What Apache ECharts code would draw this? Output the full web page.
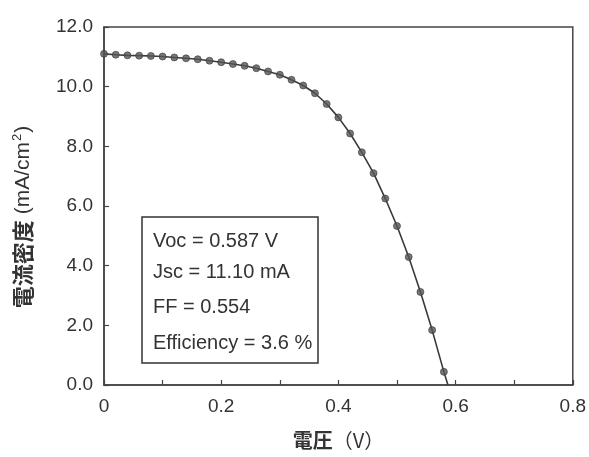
<!DOCTYPE html>
<html>
<head>
<meta charset="utf-8">
<script src="https://cdn.jsdelivr.net/npm/echarts@6/dist/echarts.min.js"></script>
<style>
  html, body { margin: 0; padding: 0; background: #fff; }
  #chart { width: 589px; height: 457px; }
</style>
</head>
<body>
<div id="chart"></div>
<script>
// J-V curve of the cell: voltage (V) and current density (mA/cm2)
const voltage = [0.00, 0.02, 0.04, 0.06, 0.08, 0.10, 0.12, 0.14, 0.16, 0.18,
                 0.20, 0.22, 0.24, 0.26, 0.28, 0.30, 0.32, 0.34, 0.36, 0.38,
                 0.40, 0.42, 0.44, 0.46, 0.48, 0.50, 0.52, 0.54, 0.56, 0.58];
const currentDensity = [11.10, 11.07, 11.05, 11.04, 11.03, 11.01, 10.98, 10.95, 10.92, 10.87,
                        10.82, 10.76, 10.70, 10.62, 10.51, 10.40, 10.23, 10.04, 9.78, 9.42,
                        8.97, 8.43, 7.80, 7.10, 6.25, 5.33, 4.29, 3.12, 1.84, 0.44];
// open-circuit point where the curve meets the voltage axis
const openCircuit = [0.587, 0];

const statLines = ['Voc = 0.587 V', 'Jsc = 11.10 mA', 'FF = 0.554', 'Efficiency = 3.6 %'];

const xTicks = [0, 0.2, 0.4, 0.6, 0.8];
const yTicks = [0, 2, 4, 6, 8, 10, 12];

const ink = '#333';
const latin = '"Liberation Sans", Arial, sans-serif';
const cjk = '"Noto Sans CJK JP", "Liberation Sans", sans-serif';

const points = voltage.map((v, i) => [v, currentDensity[i]]);
const curve = points.concat([openCircuit]);

const chart = echarts.init(document.getElementById('chart'), null, { renderer: 'canvas' });

const statTop = [241, 272, 307, 343];

chart.setOption({
  animation: false,
  backgroundColor: '#fff',
  grid: {
    left: 104, right: 11, top: 27, bottom: 72,
    show: true, borderColor: '#444', borderWidth: 1.5, backgroundColor: 'transparent'
  },
  xAxis: {
    type: 'value',
    min: xTicks[0], max: xTicks[xTicks.length - 1], interval: 0.2,
    name: '{c|電圧}{l|（V）}',
    nameLocation: 'middle',
    nameGap: 45,
    nameTextStyle: {
      rich: {
        c: { fontFamily: cjk, fontSize: 20, fontWeight: 'bold', color: ink },
        l: { fontFamily: cjk, fontSize: 20, color: ink }
      }
    },
    axisLine: { show: true, lineStyle: { color: '#444', width: 1.5 } },
    axisTick: { show: true, inside: true, length: 5, lineStyle: { color: '#444', width: 1.2 } },
    minorTick: { show: true, splitNumber: 2, length: 5, lineStyle: { color: '#444', width: 1.2 } },
    splitLine: { show: false },
    minorSplitLine: { show: false },
    axisLabel: {
      margin: 12,
      fontFamily: latin, fontSize: 19, color: ink,
      formatter: v => (v === 0 ? '0' : v.toFixed(1))
    }
  },
  yAxis: {
    type: 'value',
    min: yTicks[0], max: yTicks[yTicks.length - 1], interval: 2,
    name: '{c|電流密度}{l| (mA/cm}{s|2}{l|)}',
    nameLocation: 'middle',
    nameRotate: 90,
    nameGap: 68,
    nameTextStyle: {
      padding: [0, 22, 0, 0],
      rich: {
        c: { fontFamily: cjk, fontSize: 22, fontWeight: 'bold', color: ink, lineHeight: 26 },
        l: { fontFamily: latin, fontSize: 21, color: ink, lineHeight: 26 },
        s: { fontFamily: latin, fontSize: 13, color: ink, lineHeight: 26, padding: [0, 1, 12, 1] }
      }
    },
    axisLine: { show: true, lineStyle: { color: '#444', width: 1.5 } },
    axisTick: { show: true, inside: true, length: 5, lineStyle: { color: '#444', width: 1.2 } },
    splitLine: { show: false },
    axisLabel: {
      margin: 11,
      fontFamily: latin, fontSize: 19, color: ink,
      formatter: v => v.toFixed(1)
    }
  },
  graphic: [
    {
      type: 'rect',
      shape: { x: 142, y: 217, width: 176, height: 146 },
      style: { fill: '#fff', stroke: '#333', lineWidth: 1.5 },
      z: 10
    }
  ].concat(statLines.map((t, i) => ({
    type: 'text',
    x: 153, y: statTop[i],
    style: {
      text: t, fill: ink, font: '20px "Liberation Sans", Arial, sans-serif',
      textVerticalAlign: 'middle', verticalAlign: 'middle'
    },
    z: 11
  }))),
  series: [
    {
      type: 'line',
      data: curve,
      showSymbol: false,
      symbol: 'none',
      lineStyle: { color: '#3a3a3a', width: 1.6 },
      z: 2
    },
    {
      type: 'scatter',
      data: points,
      symbol: 'circle',
      symbolSize: 7,
      itemStyle: { color: '#555', borderColor: '#3a3a3a', borderWidth: 0.8 },
      z: 3
    }
  ]
});
</script>
</body>
</html>
